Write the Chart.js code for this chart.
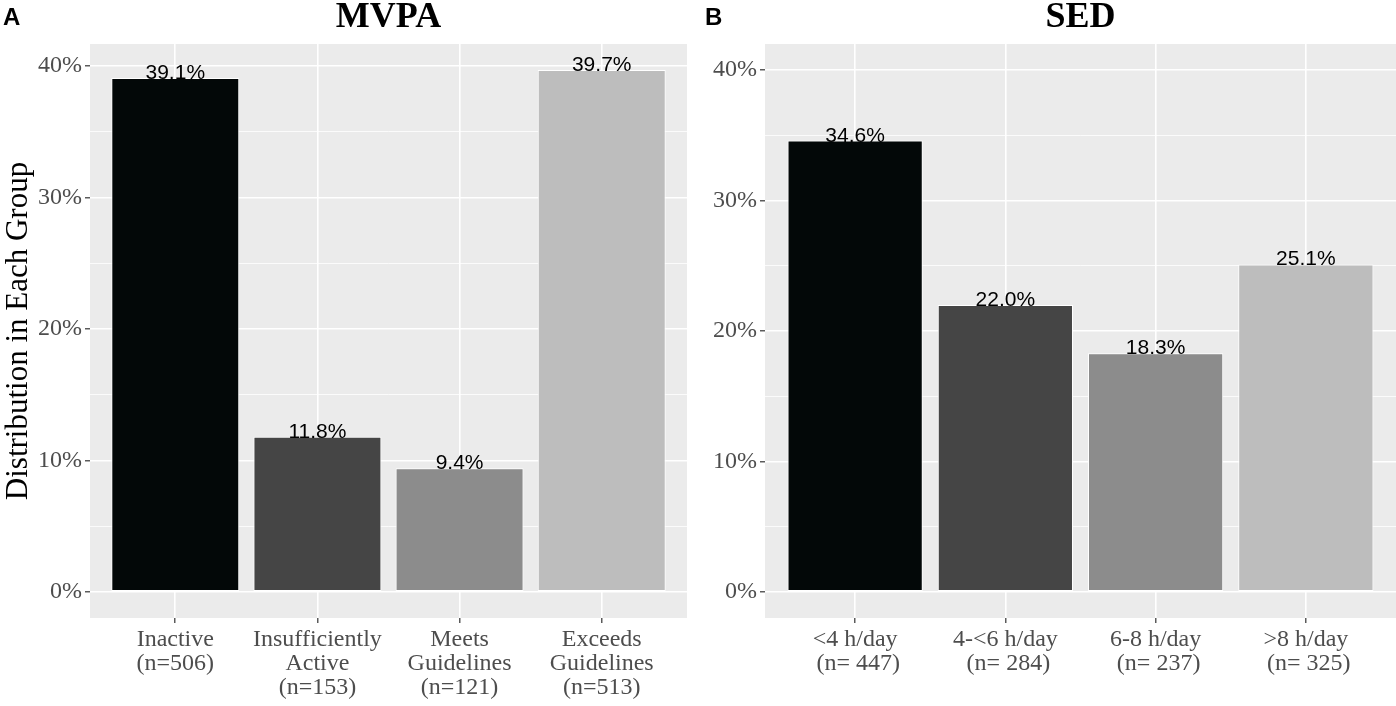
<!DOCTYPE html>
<html>
<head>
<meta charset="utf-8">
<script src="https://cdn.jsdelivr.net/npm/chart.js@4.4.0/dist/chart.umd.min.js"></script>
<style>
  html, body { margin: 0; padding: 0; background: #ffffff; }
  body { width: 1396px; height: 706px; position: relative; overflow: hidden; }
  .panel { position: absolute; top: 0; height: 706px; }
</style>
</head>
<body>
<div class="panel" id="wrapA" style="left:0px;width:700px;"><canvas id="chartA"></canvas></div>
<div class="panel" id="wrapB" style="left:700px;width:696px;"><canvas id="chartB"></canvas></div>
<script>
// ---------- DATA ----------
const mvpaCategories = [["Inactive", "(n=506)"], ["Insufficiently", "Active", "(n=153)"], ["Meets", "Guidelines", "(n=121)"], ["Exceeds", "Guidelines", "(n=513)"]];
const mvpaValues = [39.1, 11.8, 9.4, 39.7];

const sedCategories = [["<4 h/day", " (n= 447)"], ["4-<6 h/day", " (n= 284)"], ["6-8 h/day", " (n= 237)"], [">8 h/day", " (n= 325)"]];
const sedValues = [34.6, 22.0, 18.3, 25.1];

const majorYTicks = [0, 10, 20, 30, 40];
const minorYTicks = [5, 15, 25, 35];

const barColors = ["#030808", "#454545", "#8c8c8c", "#bdbdbd"];

// ---------- HELPERS ----------
const PANEL_BG = "#ebebeb";
const TICK_FONT = { family: "'Liberation Serif', 'Times New Roman', serif", size: 24, lineHeight: 1.0 };

const bgPlugin = {
  id: "panelBg",
  beforeDraw(chart) {
    const { ctx, chartArea: a } = chart;
    ctx.save();
    ctx.fillStyle = PANEL_BG;
    ctx.fillRect(a.left, a.top, a.right - a.left, a.bottom - a.top);
    ctx.restore();
  }
};

const decoPlugin = {
  id: "deco",
  afterDatasetsDraw(chart, args, opts) {
    const { ctx, chartArea: a } = chart;
    ctx.save();
    // value labels
    const meta = chart.getDatasetMeta(0);
    const vals = chart.data.datasets[0].data.map(d => d.y);
    ctx.font = "21px 'Liberation Sans', Arial, sans-serif";
    ctx.fillStyle = "#000000";
    ctx.textAlign = "center";
    ctx.textBaseline = "alphabetic";
    meta.data.forEach((bar, i) => {
      ctx.fillText(vals[i].toFixed(1) + "%", bar.x, bar.y + 1);
    });
    // panel title
    ctx.font = "bold 36px 'Liberation Serif', 'Times New Roman', serif";
    ctx.fillText(opts.title, (a.left + a.right) / 2, 27);
    // panel tag
    ctx.textAlign = "left";
    ctx.font = "bold 24px 'Liberation Sans', Arial, sans-serif";
    ctx.fillText(opts.tag, opts.tagX, 25);
    ctx.restore();
  }
};

function buildChart(canvasId, categories, values, yMin, yMax, yAxisWidth, padRight, title, tag, tagX, yTitle) {
  const points = values.map((v, i) => ({ x: i + 1, y: v }));
  const allTicks = majorYTicks.concat(minorYTicks).sort((a, b) => a - b);
  return new Chart(document.getElementById(canvasId), {
    type: "bar",
    data: {
      datasets: [{
        data: points,
        backgroundColor: barColors,
        borderColor: "#ffffff",
        borderWidth: 1,
        borderSkipped: false,
        barPercentage: 0.9,
        categoryPercentage: 1.0
      }]
    },
    plugins: [bgPlugin, decoPlugin],
    options: {
      responsive: true,
      maintainAspectRatio: false,
      animation: false,
      events: [],
      layout: { padding: { top: 44, left: 0, right: padRight, bottom: 0 } },
      plugins: {
        legend: { display: false },
        tooltip: { enabled: false },
        title: { display: false },
        deco: { title: title, tag: tag, tagX: tagX }
      },
      scales: {
        x: {
          type: "linear",
          min: 0.4,
          max: 4.6,
          offset: false,
          afterBuildTicks(scale) {
            scale.ticks = categories.map((c, i) => ({ value: i + 1 }));
          },
          afterFit(scale) { scale.height = 88; },
          border: { display: false },
          grid: {
            offset: false,
            color: "#ffffff",
            lineWidth: 1.6,
            drawTicks: true,
            tickLength: 5,
            tickColor: "#333333",
            tickWidth: 1.2
          },
          ticks: {
            autoSkip: false,
            maxRotation: 0,
            minRotation: 0,
            padding: 5,
            color: "#4d4d4d",
            font: TICK_FONT,
            callback(value) {
              const idx = Math.round(value) - 1;
              return categories[idx] || "";
            }
          }
        },
        y: {
          type: "linear",
          min: yMin,
          max: yMax,
          afterBuildTicks(scale) {
            scale.ticks = allTicks.map(v => ({ value: v }));
          },
          afterFit(scale) { scale.width = yAxisWidth; },
          border: { display: false },
          grid: {
            color: "#ffffff",
            lineWidth(ctx) { return majorYTicks.includes(ctx.tick && ctx.tick.value) ? 1.6 : 0.8; },
            drawTicks: true,
            tickLength: 5,
            tickColor(ctx) { return majorYTicks.includes(ctx.tick && ctx.tick.value) ? "#333333" : "rgba(0,0,0,0)"; },
            tickWidth: 1.2
          },
          ticks: {
            autoSkip: false,
            padding: 3,
            color: "#4d4d4d",
            font: TICK_FONT,
            callback(value) {
              return majorYTicks.includes(value) ? value + "%" : "";
            }
          },
          title: {
            display: !!yTitle,
            text: yTitle || "",
            color: "#000000",
            font: { family: "'Liberation Serif', 'Times New Roman', serif", size: 31, lineHeight: 1.2 },
            padding: { top: 0, bottom: 0 }
          }
        }
      }
    }
  });
}

// ggplot-style expansion: 5% of range on each side
const aRange = Math.max(...mvpaValues) - 0;
buildChart("chartA", mvpaCategories, mvpaValues, -0.05 * aRange, Math.max(...mvpaValues) + 0.05 * aRange,
           90, 13, "MVPA", "A", 3, "Distribution in Each Group");
buildChart("chartB", sedCategories, sedValues, -2, 42,
           65, 0, "SED", "B", 5, null);
</script>
</body>
</html>
